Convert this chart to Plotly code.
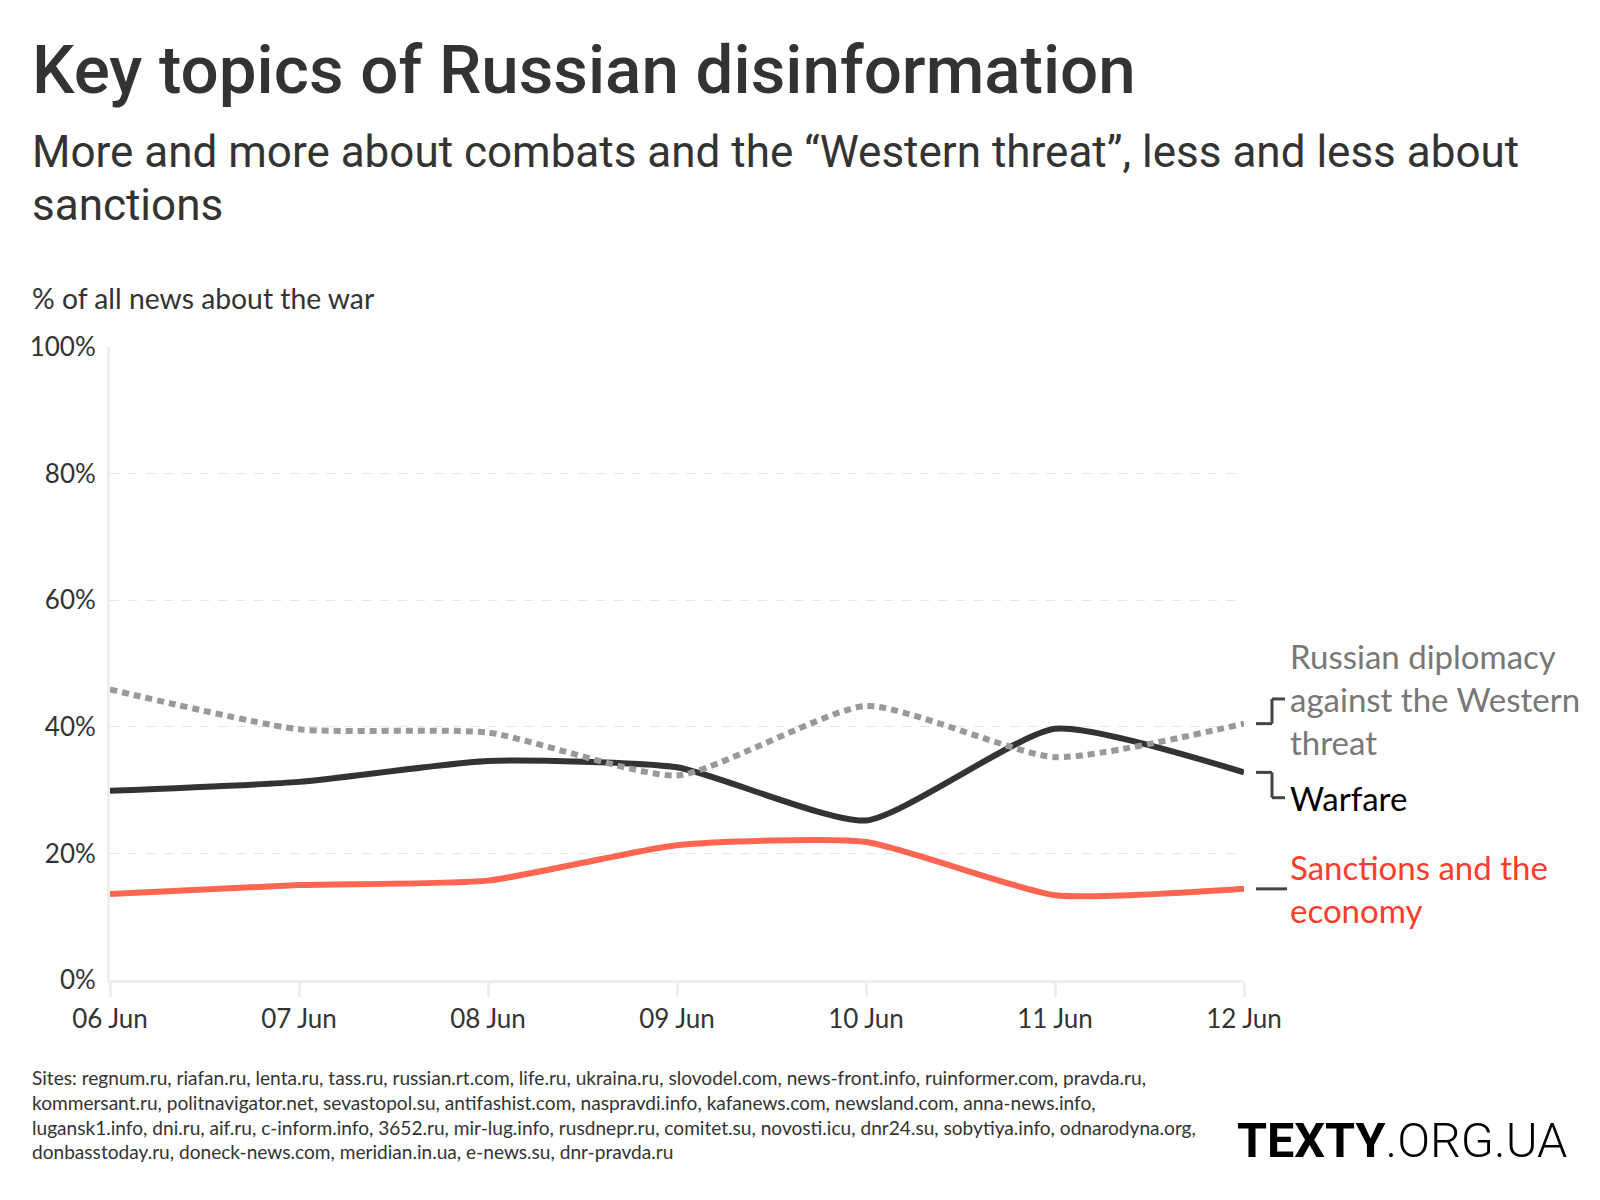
import plotly.graph_objects as go

dates = ["06 Jun", "07 Jun", "08 Jun", "09 Jun", "10 Jun", "11 Jun", "12 Jun"]
diplomacy = [45.9, 39.6, 39.1, 32.3, 43.3, 35.2, 40.5]
warfare = [29.9, 31.3, 34.6, 33.6, 25.2, 39.7, 32.8]
sanctions = [13.6, 15.0, 15.7, 21.3, 21.8, 13.4, 14.4]
y_ticks = [0, 20, 40, 60, 80, 100]
y_tick_labels = ["0%", "20%", "40%", "60%", "80%", "100%"]

title = "Key topics of Russian disinformation"
subtitle_lines = ["More and more about combats and the “Western threat”, less and less about",
                  "sanctions"]
y_title = "% of all news about the war"
label_diplomacy = "Russian diplomacy<br>against the Western<br>threat"
label_warfare = "Warfare"
label_sanctions = "Sanctions and the<br>economy"
sites_lines = [
    "Sites: regnum.ru, riafan.ru, lenta.ru, tass.ru, russian.rt.com, life.ru, ukraina.ru, slovodel.com, news-front.info, ruinformer.com, pravda.ru,",
    "kommersant.ru, politnavigator.net, sevastopol.su, antifashist.com, naspravdi.info, kafanews.com, newsland.com, anna-news.info,",
    "lugansk1.info, dni.ru, aif.ru, c-inform.info, 3652.ru, mir-lug.info, rusdnepr.ru, comitet.su, novosti.icu, dnr24.su, sobytiya.info, odnarodyna.org,",
    "donbasstoday.ru, doneck-news.com, meridian.in.ua, e-news.su, dnr-pravda.ru",
]

W, H = 1600, 1200
L, R, T, B = 110, 356, 347, 220
PW = W - L - R
PH = H - T - B


def px(x):
    return (x - L) / PW


def py(y):
    return (H - B - y) / PH


BODY = "Lato, 'Source Sans Pro', 'Noto Sans', sans-serif"
HEAD = "Roboto, 'Noto Sans', sans-serif"
SMOOTH = 0.55
LEFT = 30

fig = go.Figure()
fig.add_trace(go.Scatter(x=dates, y=sanctions, mode="lines",
                         line=dict(color="#ff6652", width=6, shape="spline", smoothing=SMOOTH),
                         hoverinfo="skip", showlegend=False))
fig.add_trace(go.Scatter(x=dates, y=warfare, mode="lines",
                         line=dict(color="#333333", width=6, shape="spline", smoothing=SMOOTH),
                         hoverinfo="skip", showlegend=False))
fig.add_trace(go.Scatter(x=dates, y=diplomacy, mode="lines",
                         line=dict(color="#999999", width=6, shape="spline", smoothing=SMOOTH, dash="7px,5px"),
                         hoverinfo="skip", showlegend=False))

D_OFF, W_OFF = 3.9, -4.0

annotations = [
    dict(text=title, x=px(LEFT), y=py(70), xanchor="left", yanchor="middle",
         font=dict(family=HEAD, size=67.3, color="#333333", weight=500)),
    dict(text=subtitle_lines[0], x=px(LEFT), y=py(152), xanchor="left", yanchor="middle",
         font=dict(family=HEAD, size=44, color="#333333")),
    dict(text=subtitle_lines[1], x=px(LEFT), y=py(205), xanchor="left", yanchor="middle",
         font=dict(family=HEAD, size=44, color="#333333")),
    dict(text=y_title, x=px(LEFT), y=py(298), xanchor="left", yanchor="middle",
         font=dict(family=BODY, size=28.3, color="#333333")),
    dict(text=label_diplomacy, x=px(1288), y=diplomacy[-1] + D_OFF, yref="y", xanchor="left",
         yanchor="middle", align="left", font=dict(family=BODY, size=33, color="#777777")),
    dict(text=label_warfare, x=px(1288), y=warfare[-1] + W_OFF, yref="y", xanchor="left",
         yanchor="middle", align="left", font=dict(family=BODY, size=33, color="#000000")),
    dict(text=label_sanctions, x=px(1288), y=sanctions[-1], yref="y", xanchor="left",
         yanchor="middle", align="left", font=dict(family=BODY, size=33, color="#ff3b2b")),
    dict(text="<br>".join(sites_lines), x=px(LEFT), y=py(1114), xanchor="left", yanchor="middle",
         align="left", font=dict(family=BODY, size=19.1, color="#333333")),
    dict(text="<b>TEXTY</b><span style='font-weight:300'>.ORG.UA</span>", x=px(1569), y=py(1140),
         xanchor="right", yanchor="middle", font=dict(family=HEAD, size=48.5, color="#000000")),
]
for a in annotations:
    a.setdefault("xref", "paper")
    a.setdefault("yref", "paper")
    a["showarrow"] = False

shapes = []
lc = dict(color="#444444", width=3)


def bracket(y_end, y_lab):
    return [
        dict(type="line", xref="paper", yref="y", x0=px(1256), x1=px(1272), y0=y_end, y1=y_end, line=lc),
        dict(type="line", xref="paper", yref="y", x0=px(1272), x1=px(1272), y0=y_end, y1=y_lab, line=lc),
        dict(type="line", xref="paper", yref="y", x0=px(1272), x1=px(1285), y0=y_lab, y1=y_lab, line=lc),
    ]


shapes += bracket(diplomacy[-1], diplomacy[-1] + D_OFF)
shapes += bracket(warfare[-1], warfare[-1] + W_OFF)
shapes.append(dict(type="line", xref="paper", yref="y", x0=px(1256), x1=px(1287),
                   y0=sanctions[-1], y1=sanctions[-1], line=lc))

fig.update_layout(
    width=W, height=H,
    margin=dict(l=L, r=R, t=T, b=B, autoexpand=False),
    paper_bgcolor="white", plot_bgcolor="white",
    showlegend=False, hovermode=False,
    annotations=annotations, shapes=shapes,
    xaxis=dict(type="category", range=[0, len(dates) - 1], showgrid=False, zeroline=False,
               showline=True, linecolor="#eeeeee", linewidth=3,
               ticks="outside", ticklen=14, tickwidth=3, tickcolor="#eeeeee",
               tickfont=dict(family=BODY, size=26, color="#333333"), fixedrange=True),
    yaxis=dict(range=[0, 100], tickvals=y_ticks, ticktext=y_tick_labels,
               showgrid=True, gridcolor="#e6e6e6", gridwidth=1, griddash="dash",
               zeroline=False, showline=True, linecolor="#eeeeee", linewidth=3,
               ticks="", ticklabelstandoff=6,
               tickfont=dict(family=BODY, size=26, color="#333333"), fixedrange=True),
)

fig.write_html("out.html", config={"displayModeBar": False},
               post_script="document.body.style.margin='0px';")
